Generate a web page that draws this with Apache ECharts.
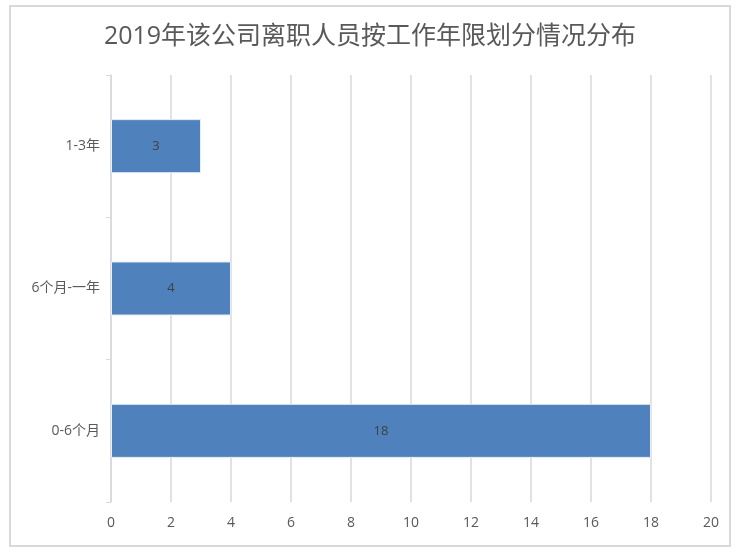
<!DOCTYPE html>
<html>
<head>
<meta charset="utf-8">
<script src="https://cdn.jsdelivr.net/npm/echarts@6/dist/echarts.min.js"></script>
<style>
html,body{margin:0;padding:0;background:#fff;}
#main{width:740px;height:555px;}
</style>
</head>
<body>
<div id="main"></div>
<script>
var titleText = "2019年该公司离职人员按工作年限划分情况分布";
var categories = ["0-6个月", "6个月-一年", "1-3年"];
var values = [18, 4, 3];
var xTicks = [0, 20, 2]; // min, max, interval

var fontFam = "'Open Sans','Noto Sans CJK SC',sans-serif";
var chart = echarts.init(document.getElementById("main"));
var option = {
    backgroundColor: "#fff",
    animation: false,
    title: {
        text: titleText,
        left: "center",
        top: 19,
        textStyle: {
            color: "#595959",
            fontSize: 25,
            fontWeight: "normal",
            fontFamily: fontFam
        }
    },
    graphic: [{
        type: "rect",
        shape: {x: 10, y: 6, width: 720, height: 540},
        style: {fill: "none", stroke: "#d9d9d9", lineWidth: 2},
        silent: true
    }],
    grid: {
        left: 111,
        right: 29,
        top: 75,
        bottom: 53
    },
    xAxis: {
        type: "value",
        min: xTicks[0],
        max: xTicks[1],
        interval: xTicks[2],
        axisLine: {show: false},
        axisTick: {show: false},
        axisLabel: {
            color: "#595959",
            fontSize: 14,
            margin: 14,
            fontFamily: fontFam
        },
        splitLine: {
            show: true,
            lineStyle: {color: "#d9d9d9", width: 1.5}
        }
    },
    yAxis: {
        type: "category",
        data: categories,
        axisLine: {show: true, lineStyle: {color: "#d9d9d9", width: 1.5}},
        axisTick: {show: true, length: 5, lineStyle: {color: "#d9d9d9"}},
        axisLabel: {
            color: "#595959",
            fontSize: 14,
            margin: 11,
            fontFamily: fontFam
        }
    },
    series: [{
        type: "bar",
        data: values,
        barCategoryGap: "62%",
        itemStyle: {
            color: "#4f81bd",
            borderColor: "#e8eef7",
            borderWidth: 1
        },
        label: {
            show: true,
            position: "inside",
            color: "#404040",
            fontSize: 13,
            fontFamily: fontFam
        }
    }]
};
chart.setOption(option);
</script>
</body>
</html>
